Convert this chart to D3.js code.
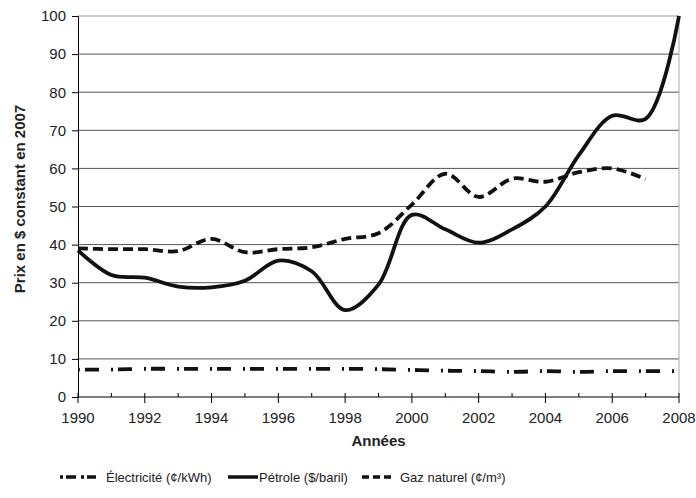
<!DOCTYPE html>
<html>
<head>
<meta charset="utf-8">
<script src="https://cdn.jsdelivr.net/npm/d3@7"></script>
<style>
  body { margin: 0; background: #fff; }
  text { font-family: "Liberation Sans", Arial, sans-serif; fill: #222; }
</style>
</head>
<body>
<svg id="chart"></svg>
<script>
// values (prix en $ constant de 2007)
const years = d3.range(1990, 2009);
const electricite = [7.2, 7.2, 7.4, 7.4, 7.4, 7.4, 7.4, 7.4, 7.4, 7.3, 7.1, 6.9, 6.8, 6.6, 6.8, 6.6, 6.8, 6.8, 6.8];
const petrole = [38.5, 32, 31.3, 29, 28.8, 30.5, 35.8, 33, 22.8, 29.5, 47.8, 44, 40.5, 44, 50, 63.5, 73.8, 73, 100];
const gazYears = d3.range(1990, 2008);
const gaz = [39, 38.8, 38.8, 38.3, 41.5, 38, 38.8, 39.3, 41.5, 43, 50.5, 58.6, 52.5, 57.3, 56.5, 59, 60, 57.2];
const yTicks = d3.range(0, 101, 10);
const xTicks = d3.range(1990, 2009, 2);

const width = 696, height = 498;
const margin = {top: 16, left: 78, right: 17, bottom: 101};

const svg = d3.select("#chart")
  .attr("width", width)
  .attr("height", height);

const x = d3.scaleLinear().domain([1990, 2008]).range([margin.left, width - margin.right]);
const y = d3.scaleLinear().domain([0, 100]).range([height - margin.bottom, margin.top]);

// gridlines
svg.append("g")
  .selectAll("line")
  .data(yTicks.filter(d => d > 0))
  .join("line")
    .attr("x1", x(1990)).attr("x2", x(2008))
    .attr("y1", d => y(d)).attr("y2", d => y(d))
    .attr("stroke", d => d == 100 ? "#999" : "#555")
    .attr("stroke-width", 1);

// right border
svg.append("line")
  .attr("x1", x(2008)).attr("x2", x(2008))
  .attr("y1", y(100)).attr("y2", y(0))
  .attr("stroke", "#aaa");

// y axis
const yAxis = svg.append("g")
  .attr("transform", `translate(${margin.left},0)`)
  .call(d3.axisLeft(y).tickValues(yTicks).tickSize(6).tickPadding(6));
yAxis.selectAll("text").style("font-size", "15px").attr("fill", "#222");
yAxis.selectAll("line, path").attr("stroke", "#000");

// x axis: minor ticks every year above, major ticks every 2 years below
const xg = svg.append("g").attr("transform", `translate(0,${y(0)})`);
xg.append("line").attr("x1", x(1990)).attr("x2", x(2008)).attr("stroke", "#000");
xg.selectAll(".minor").data(years).join("line")
  .attr("x1", d => x(d)).attr("x2", d => x(d))
  .attr("y1", -4).attr("y2", d => d % 2 == 0 ? 6 : 0)
  .attr("stroke", "#000");
xg.selectAll("text").data(xTicks).join("text")
  .attr("x", d => x(d)).attr("y", 26)
  .attr("text-anchor", "middle")
  .style("font-size", "15px")
  .text(d => d);

// axis titles
svg.append("text")
  .attr("x", x(1999)).attr("y", 446)
  .attr("text-anchor", "middle")
  .style("font-size", "15px").style("font-weight", "bold")
  .text("Années");

svg.append("text")
  .attr("transform", "translate(25,199) rotate(-90)")
  .attr("text-anchor", "middle")
  .style("font-size", "15px").style("font-weight", "bold")
  .text("Prix en $ constant en 2007");

const line = d3.line()
  .x(d => x(d[0]))
  .y(d => y(d[1]))
  .curve(d3.curveCatmullRom.alpha(0.5));

const series = [
  {name: "Électricité (¢/kWh)", xs: years, vals: electricite, dash: "2,5,14,12"},
  {name: "Pétrole ($/baril)", xs: years, vals: petrole, dash: null},
  {name: "Gaz naturel (¢/m³)", xs: gazYears, vals: gaz, dash: "10,5"}
];

svg.append("g").selectAll("path")
  .data(series)
  .join("path")
    .attr("d", s => line(s.xs.map((yr, i) => [yr, s.vals[i]])))
    .attr("fill", "none")
    .attr("stroke", "#111")
    .attr("stroke-width", 3.8)
    .attr("stroke-dasharray", s => s.dash);

// legend
const legendPos = [
  {x1: 60, x2: 96, tx: 106},
  {x1: 228, x2: 258, tx: 259},
  {x1: 362, x2: 393, tx: 400}
];
const lg = svg.append("g").attr("transform", "translate(0,477)");
series.forEach((s, i) => {
  const p = legendPos[i];
  lg.append("line")
    .attr("x1", p.x1).attr("x2", p.x2)
    .attr("y1", 0).attr("y2", 0)
    .attr("stroke", "#111")
    .attr("stroke-width", 3.5)
    .attr("stroke-dasharray", i == 0 ? "3,3,10,5" : s.dash == null ? null : "7,4");
  lg.append("text")
    .attr("x", p.tx).attr("y", 5)
    .style("font-size", "13px")
    .attr("fill", "#222")
    .text(s.name);
});
</script>
</body>
</html>
